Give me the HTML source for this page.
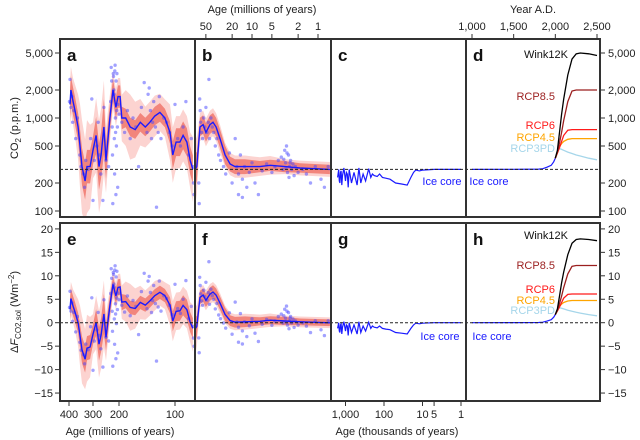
<!DOCTYPE html>
<html><head><meta charset="utf-8"><style>
html,body{margin:0;padding:0;background:#fff}
svg{display:block;font-family:"Liberation Sans",Arial,sans-serif}
</style></head><body>
<svg id="fig" width="640" height="440" viewBox="0 0 640 440" xmlns="http://www.w3.org/2000/svg">
<defs>
<clipPath id="cpA"><rect x="60" y="39" width="135" height="178"/></clipPath>
<clipPath id="cpB"><rect x="195" y="39" width="136" height="178"/></clipPath>
<clipPath id="cpC"><rect x="331" y="39" width="135" height="178"/></clipPath>
<clipPath id="cpD"><rect x="466" y="39" width="134" height="178"/></clipPath>
<clipPath id="cpE"><rect x="60" y="223" width="135" height="178"/></clipPath>
<clipPath id="cpF"><rect x="195" y="223" width="136" height="178"/></clipPath>
<clipPath id="cpG"><rect x="331" y="223" width="135" height="178"/></clipPath>
<clipPath id="cpH"><rect x="466" y="223" width="134" height="178"/></clipPath>
</defs>
<g id="layer"></g>
</svg>
<script>
// ---- data (panel a: age Ma, CO2 ppm) ----
const aAges=[396,392,383,375,362,354,346,333,325,312,300,288,277,269,258,250,235,223,212,204,198,195,188,180,171,162,153,145,136,127,118,109,104,98,91,85,78,72,67];
const aCO2=[1400,2000,1500,1200,800,500,300,210,300,300,450,650,300,400,800,350,1000,2000,1300,1700,1700,1000,1000,800,750,900,800,900,1050,1150,1000,700,400,550,550,650,550,350,280];
const aDarkW=[0.15,0.15,0.15,0.15,0.15,0.18,0.2,0.2,0.18,0.18,0.15,0.2,0.25,0.25,0.3,0.2,0.15,0.12,0.12,0.12,0.12,0.12,0.1,0.1,0.1,0.1,0.1,0.1,0.1,0.1,0.1,0.12,0.15,0.15,0.15,0.15,0.15,0.15,0.15];
const aLightW=[0.25,0.25,0.25,0.28,0.35,0.45,0.5,0.45,0.5,0.45,0.3,0.4,0.5,0.5,0.5,0.35,0.25,0.2,0.2,0.2,0.2,0.25,0.3,0.35,0.3,0.25,0.22,0.22,0.22,0.2,0.2,0.3,0.3,0.28,0.28,0.28,0.28,0.3,0.35];
const aDots=[[398,1500],[396,2600],[392,1300],[388,1700],[385,900],[380,1200],[372,600],[365,1000],[355,400],[350,300],[340,250],[335,180],[330,350],[320,280],[310,600],[305,1600],[300,130],[295,350],[285,500],[280,900],[275,400],[270,250],[262,130],[258,1300],[250,350],[240,300],[232,1500],[230,3500],[228,2500],[226,800],[225,400],[224,120],[222,3000],[220,2000],[218,600],[217,250],[215,3700],[214,1000],[212,150],[211,2500],[210,500],[208,3000],[206,800],[205,180],[204,1400],[221,2800],[219,1800],[216,3200],[213,700],[209,1200],[200,1100],[195,900],[190,700],[185,1200],[180,600],[175,1000],[170,800],[165,300],[160,1300],[155,2400],[150,700],[148,1800],[146,2100],[144,1200],[142,600],[140,900],[138,1500],[135,800],[133,110],[130,700],[128,1700],[125,600],[120,1000],[115,900],[110,700],[105,500],[100,1400],[95,600],[90,500],[85,800],[80,1500],[75,400],[70,600],[67,300],[66,200],[65,150]];
// ---- panel b ----
const bAges=[73,68.5,61.4,55,49.9,43.3,39,35,30.5,25.6,21.5,18.1,12.8,7.6,5.3,3.16,1.88,0.66];
const bCO2=[280,300,800,850,700,850,900,800,600,400,320,300,300,300,310,300,290,280];
const bDarkW=[0.2,0.15,0.1,0.1,0.1,0.1,0.1,0.1,0.1,0.1,0.08,0.08,0.08,0.06,0.06,0.06,0.05,0.05];
const bLightW=[0.4,0.3,0.15,0.15,0.15,0.15,0.15,0.15,0.15,0.13,0.12,0.12,0.12,0.1,0.1,0.08,0.08,0.08];
const bDots=[[64,200],[63,120],[62,1600],[61,1200],[60,900],[58,700],[56,600],[54,1000],[52,800],[50,1300],[48,700],[46,900],[45,2600],[44,600],[42,1000],[40,800],[38,700],[36,500],[34,600],[32,400],[30,350],[27,300],[25,250],[22,420],[20,200],[18,600],[17,300],[16,150],[16,250],[15,400],[14,220],[14,140],[13,300],[12,180],[11,260],[10,330],[9,200],[8,150],[7,270],[6,320],[5,260],[4.5,300],[4,350],[3.6,380],[3.4,280],[3.2,450],[3.1,330],[3,500],[2.9,260],[2.8,400],[2.7,300],[2.6,350],[2.5,280],[2.4,320],[2.3,240],[2.2,300],[2,260],[3.3,360],[2.95,420],[2.75,230],[2.65,330],[3.05,290],[1.7,280],[1.5,250],[1.3,200],[1.1,300],[0.9,220],[0.8,180],[0.7,300]];
// ---- panel c (kyr) ----
const cAges=[1600,1500,1450,1400,1350,1300,1250,1200,1100,1000,950,900,850,800,700,600,500,450,400,350,300,250,220,200,180,150,130,110,90,70,50,35,25,20,17,15,12,10,5,1];
const cCO2=[230,280,210,200,260,270,190,240,290,210,260,250,180,280,200,260,190,290,200,250,210,285,230,250,240,235,250,230,225,220,200,195,190,230,260,275,270,275,280,280];
// ---- panel d (year AD) ----
const dHistYears=[1000,1500,1800,1850,1900,1950,1980,2000];
const dHistCO2=[280,281,282,285,296,310,338,370];
const scenYears=[2000,2025,2050,2075,2100,2150,2200,2250,2300,2400,2500];
const wink12k=[370,450,700,1100,1600,2900,4300,4900,5000,4900,4700];
const rcp85=[370,430,540,700,940,1500,1950,2000,2000,2000,2000];
const rcp6=[370,420,480,560,650,740,750,750,750,750,750];
const rcp45=[370,420,490,530,560,590,600,600,600,600,600];
const rcp3pd=[370,440,470,460,450,430,415,400,390,370,355];
const co2Ticks=[5000,2000,1000,500,200,100];
const co2TickLabels=["5,000","2,000","1,000","500","200","100"];
const fTicks=[20,15,10,5,0,-5,-10,-15];
const fTickLabels=["20","15","10","5","0","\u221210","\u221210","\u221215"];
fTickLabels[5]="\u22125";
const bTopTicks=[50,20,10,5,2,1];
const aBotTicks=[400,300,200,100];
const cBotTicks=[1000,100,10,5,1];
const cBotLabels=["1,000","100","10","5","1"];
const dTopTicks=[1000,1500,2000,2500];
const dTopLabels=["1,000","1,500","2,000","2,500"];

// ---- scales ----
const yTop=c=>211-93*Math.log10(c/100);
const yBot=f=>322.7-4.69*f;
const forcing=(c,ageMa)=>6.2*Math.log(c/280)-0.018*ageMa;
const aTA=[440,400,300,200,100,65], aTP=[59,69,93,119,175,194];
function xA(age){for(let i=0;i<aTA.length-1;i++){if(age<=aTA[i]&&age>=aTA[i+1]){const t=(aTA[i]-age)/(aTA[i]-aTA[i+1]);return aTP[i]+t*(aTP[i+1]-aTP[i]);}}return age>440?55:198;}
const xB=a=>252-66*Math.log10(a/10);
const xC=k=>461-38.5*Math.log10(k);
const xD=y=>472+(y-1000)*0.08333;

const NS="http://www.w3.org/2000/svg";
const layer=document.getElementById('layer');
function mk(tag,attrs,parent){const e=document.createElementNS(NS,tag);for(const k in attrs)e.setAttribute(k,attrs[k]);(parent||layer).appendChild(e);return e;}
function txt(s,x,y,attrs,parent){const e=mk('text',Object.assign({x:x,y:y,'font-size':11,fill:'#222'},attrs),parent);e.textContent=s;return e;}
function pathOf(xs,ys){return xs.map((x,i)=>(i?'L':'M')+x.toFixed(1)+','+ys[i].toFixed(1)).join('');}
function bandPath(xs,lo,hi){let d=pathOf(xs,hi);for(let i=xs.length-1;i>=0;i--)d+='L'+xs[i].toFixed(1)+','+lo[i].toFixed(1);return d+'Z';}

function drawPaleo(clip,ages,co2,dW,lW,dots,xf,yf,bottom,name){
  const g=mk('g',{'clip-path':'url(#'+clip+')'});
  
  
  const xs=ages.map(xf);
  const conv=(c,a)=>bottom?yf(forcing(c,a)):yf(c);
  const lLo=co2.map((c,i)=>conv(c/Math.pow(10,lW[i]),ages[i])), lHi=co2.map((c,i)=>conv(c*Math.pow(10,lW[i]),ages[i]));
  const dLo=co2.map((c,i)=>conv(c/Math.pow(10,dW[i]),ages[i])), dHi=co2.map((c,i)=>conv(c*Math.pow(10,dW[i]),ages[i]));
  const lb=mk('path',{d:bandPath(xs,lLo,lHi),fill:'#fcd3d0'},g);
  
  
  const db=mk('path',{d:bandPath(xs,dLo,dHi),fill:'#f2857c'},g);
  
  
  dots.forEach(p=>{const c=mk('circle',{cx:xf(p[0]).toFixed(1),cy:conv(p[1],p[0]).toFixed(1),r:1.7,fill:'rgba(70,70,255,0.5)'},g);
    
    });
  const ln=mk('path',{d:pathOf(xs,co2.map((c,i)=>conv(c,ages[i]))),fill:'none',stroke:'#1a1aff','stroke-width':1.4},g);
  
  
}
function drawLine(clip,xs,ys,color,w,name){const p=mk('path',{d:pathOf(xs,ys),fill:'none',stroke:color,'stroke-width':w,'clip-path':'url(#'+clip+')'});
  
  }

// top row
drawPaleo('cpA',aAges,aCO2,aDarkW,aLightW,aDots,xA,yTop,false,'panel-a');
drawPaleo('cpB',bAges,bCO2,bDarkW,bLightW,bDots,xB,yTop,false,'panel-b');
drawLine('cpC',cAges.map(xC),cCO2.map(yTop),'#1a1aff',1.2,'panel-c-ice-core-line');
drawLine('cpD',dHistYears.map(xD),dHistCO2.map(yTop),'#1a1aff',1.2,'panel-d-ice-core-line');
const scen=[[wink12k,'#000','wink12k'],[rcp85,'#9b1f1f','rcp85'],[rcp6,'#ff1a1a','rcp6'],[rcp45,'#ffa500','rcp45'],[rcp3pd,'#a6d6ea','rcp3pd']];
scen.slice().reverse().forEach(s=>drawLine('cpD',scenYears.map(xD),s[0].map(yTop),s[1],1.3,'panel-d-'+s[2]+'-line'));
// bottom row
drawPaleo('cpE',aAges,aCO2,aDarkW,aLightW,aDots,xA,yBot,true,'panel-e');
drawPaleo('cpF',bAges,bCO2,bDarkW,bLightW,bDots,xB,yBot,true,'panel-f');
drawLine('cpG',cAges.map(xC),cCO2.map(c=>yBot(forcing(c,0))),'#1a1aff',1.2,'panel-g-ice-core-line');
drawLine('cpH',dHistYears.map(xD),dHistCO2.map(c=>yBot(forcing(c,0))),'#1a1aff',1.2,'panel-h-ice-core-line');
scen.slice().reverse().forEach(s=>drawLine('cpH',scenYears.map(xD),s[0].map(c=>yBot(forcing(c,0))),s[1],1.3,'panel-h-'+s[2]+'-line'));

// reference dashed lines
const r1=mk('line',{x1:60,x2:600,y1:yTop(280),y2:yTop(280),stroke:'#222','stroke-width':1,'stroke-dasharray':'3,2'});


const r2=mk('line',{x1:60,x2:600,y1:yBot(0),y2:yBot(0),stroke:'#222','stroke-width':1,'stroke-dasharray':'3,2'});



// frames
[[60,39,'a'],[195,39,'b'],[331,39,'c'],[466,39,'d'],[60,223,'e'],[195,223,'f'],[331,223,'g'],[466,223,'h']].forEach((p,i)=>{
  const w=[135,136,135,134][i%4];
  const r=mk('rect',{x:p[0],y:p[1],width:w,height:178,fill:'none',stroke:'#333','stroke-width':2});
  
  
  const t=txt(p[2],p[0]+7,p[1]+22,{'font-size':17,'font-weight':'bold',fill:'#111'});
  
  
});

// axes ticks
co2Ticks.forEach((v,i)=>{const y=yTop(v);
  mk('line',{x1:55,x2:60,y1:y,y2:y,stroke:'#333'});
  const l=txt(co2TickLabels[i],53,y+4,{'text-anchor':'end'});
  
  
  mk('line',{x1:600,x2:605,y1:y,y2:y,stroke:'#333'});
  const r=txt(co2TickLabels[i],608,y+4,{});
  
  });
fTicks.forEach((v,i)=>{const y=yBot(v);
  mk('line',{x1:55,x2:60,y1:y,y2:y,stroke:'#333'});
  const l=txt(fTickLabels[i],53,y+4,{'text-anchor':'end'});
  
  
  mk('line',{x1:600,x2:605,y1:y,y2:y,stroke:'#333'});
  const r=txt(fTickLabels[i],608,y+4,{});
  
  });
bTopTicks.forEach(v=>{const x=xB(v);mk('line',{x1:x,x2:x,y1:34,y2:39,stroke:'#333'});
  const t=txt(String(v),x,30,{'text-anchor':'middle'});
  
  });
dTopTicks.forEach((v,i)=>{const x=xD(v);mk('line',{x1:x,x2:x,y1:34,y2:39,stroke:'#333'});
  const t=txt(dTopLabels[i],x,30,{'text-anchor':'middle'});
  
  });
aBotTicks.forEach(v=>{const x=xA(v);mk('line',{x1:x,x2:x,y1:401,y2:406,stroke:'#333'});
  const t=txt(String(v),x,418,{'text-anchor':'middle'});
  
  });
cBotTicks.forEach((v,i)=>{const x=xC(v);mk('line',{x1:x,x2:x,y1:401,y2:406,stroke:'#333'});
  const t=txt(cBotLabels[i],x,418,{'text-anchor':'middle'});
  
  });
</script>
<svg width="0" height="0" style="position:absolute"></svg>
<script>
const svg=document.getElementById('fig');
function T(s,x,y,name,attrs){const e=document.createElementNS("http://www.w3.org/2000/svg",'text');
  e.setAttribute('x',x);e.setAttribute('y',y);e.setAttribute('font-size',11);e.setAttribute('fill','#222');
  for(const k in (attrs||{}))e.setAttribute(k,attrs[k]);
  e.textContent=s;
  
  
  svg.appendChild(e);return e;}
T('Age (millions of years)',262,13,'top-age-axis-title',{'text-anchor':'middle'});
T('Year A.D.',533,13,'top-year-axis-title',{'text-anchor':'middle'});
T('Age (millions of years)',120,435,'bottom-age-ma-axis-title',{'text-anchor':'middle'});
T('Age (thousands of years)',397,435,'bottom-age-kyr-axis-title',{'text-anchor':'middle'});
T('Ice core',442,185,'panel-c-ice-core-label',{'text-anchor':'middle',fill:'#1a1aff'});
T('Ice core',489,185,'panel-d-ice-core-label',{'text-anchor':'middle',fill:'#1a1aff'});
T('Ice core',440,340,'panel-g-ice-core-label',{'text-anchor':'middle',fill:'#1a1aff'});
T('Ice core',492,340,'panel-h-ice-core-label',{'text-anchor':'middle',fill:'#1a1aff'});
[['Wink12K',58,'#111'],['RCP8.5',100,'#9b1f1f'],['RCP6',129,'#ff1a1a'],['RCP4.5',141,'#ffa500'],['RCP3PD',152,'#a6d6ea']].forEach(l=>{
  T(l[0],l[0]==='Wink12K'?568:555,l[1],'panel-d-'+l[0].toLowerCase().replace('.','')+'-label',{'text-anchor':'end',fill:l[2]});});
[['Wink12K',239,'#111'],['RCP8.5',269,'#9b1f1f'],['RCP6',293,'#ff1a1a'],['RCP4.5',304,'#ffa500'],['RCP3PD',314,'#a6d6ea']].forEach(l=>{
  T(l[0],l[0]==='Wink12K'?568:555,l[1],'panel-h-'+l[0].toLowerCase().replace('.','')+'-label',{'text-anchor':'end',fill:l[2]});});
const y1=T('',0,0,'co2-y-axis-title',{transform:'translate(18,128) rotate(-90)','text-anchor':'middle'});
y1.innerHTML='CO<tspan font-size="8" dy="3">2</tspan><tspan dy="-3"> (p.p.m.)</tspan>';
const y2=T('',0,0,'forcing-y-axis-title',{transform:'translate(18,312) rotate(-90)','text-anchor':'middle'});
y2.innerHTML='\u0394<tspan font-style="italic">F</tspan><tspan font-size="8" dy="3">CO2,sol</tspan><tspan dy="-3"> (Wm</tspan><tspan font-size="8" dy="-4">\u22122</tspan><tspan dy="4">)</tspan>';
</script>
</body></html>
